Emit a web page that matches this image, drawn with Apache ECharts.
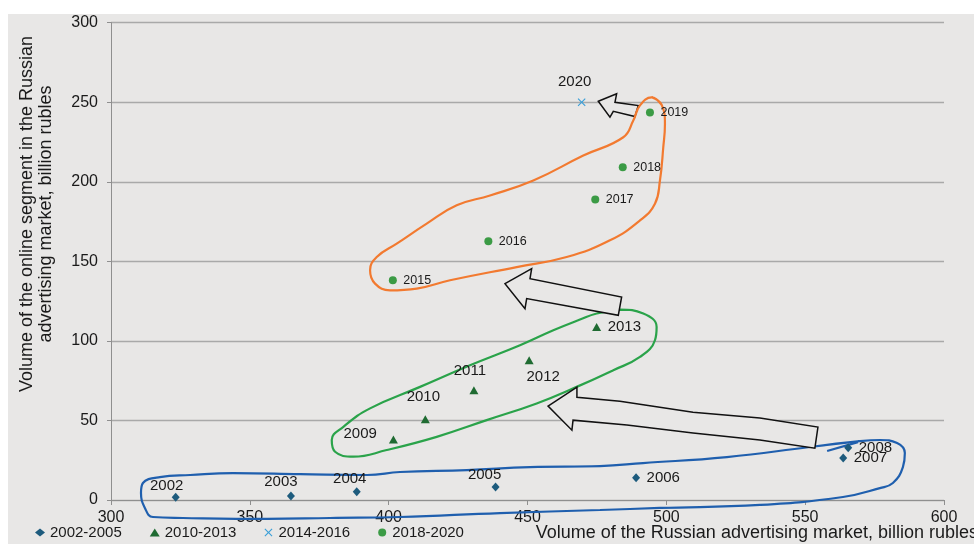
<!DOCTYPE html>
<html>
<head>
<meta charset="utf-8">
<script src="https://cdn.jsdelivr.net/npm/echarts@6/dist/echarts.min.js"></script>
<style>
  html, body { margin: 0; padding: 0; background: #ffffff; }
  #wrap { position: relative; width: 974px; height: 544px; overflow: hidden; }
  #panel { position: absolute; left: 8px; top: 14px; right: 0; bottom: 0; background: #e8e7e6; }
  #chart { position: absolute; left: 0; top: 0; width: 974px; height: 544px; }
</style>
</head>
<body>
<div id="wrap"><div id="panel"></div><div id="chart"></div></div>
<script>
// Russian advertising market (x) vs. its online segment (y), billion rubles
const diamondYears  = ['2002', '2003', '2004', '2005', '2006', '2007', '2008'];
const diamondMarket = [323.3, 364.8, 388.5, 438.5, 489.1, 563.7, 565.5];
const diamondOnline = [1.7, 2.5, 5.2, 8.2, 14.0, 26.4, 32.8];

const triangleYears  = ['2009', '2010', '2011', '2012', '2013'];
const triangleMarket = [401.7, 413.2, 430.7, 450.6, 474.9];
const triangleOnline = [38.1, 50.8, 69.0, 87.9, 108.8];

const crossYears  = ['2020'];
const crossMarket = [469.5];
const crossOnline = [250.0];

const circleYears  = ['2015', '2016', '2017', '2018', '2019'];
const circleMarket = [401.5, 435.9, 474.4, 484.3, 494.1];
const circleOnline = [138.1, 162.6, 188.9, 209.2, 243.5];

const legendNames = ['2002-2005', '2010-2013', '2014-2016', '2018-2020'];

const xTicks = [300, 350, 400, 450, 500, 550, 600];
const yTicks = [0, 50, 100, 150, 200, 250, 300];

// Hand-drawn loops around each period, in axis units
const blueLoop = [
  [569.7, 37.0], [551.7, 33.3], [521.8, 27.0], [491.6, 23.2], [476.1, 21.3], [450.9, 20.7],
  [428.2, 18.8], [404.1, 17.6], [392.2, 15.7], [368.1, 16.3], [343.9, 16.9], [328.5, 15.7],
  [317.6, 14.4], [311.5, 10.7], [310.8, 4.4], [312.2, -5.0], [315.1, -10.7], [325.9, -11.3],
  [356.2, -11.9], [378.9, -11.3], [404.1, -10.7], [440.1, -8.2], [476.1, -6.3], [497.7, -5.0],
  [533.7, -3.1], [563.6, 1.9], [576.9, 7.5], [581.6, 10.7], [585.2, 20.7], [585.9, 29.5],
  [583.1, 35.8], [576.9, 37.7], [569.7, 37.0], [551.7, 33.3]
];
const blueTail = [[557.9, 30.8], [569.0, 36.4]];

const greenLoop = [
  [474.9, 117.2], [483.3, 119.7], [491.7, 117.2], [496.5, 108.8], [495.9, 100.4], [490.5, 89.9],
  [480.9, 81.6], [467.7, 71.1], [453.3, 60.7], [435.3, 50.2], [417.3, 39.7], [399.3, 31.4],
  [387.3, 27.2], [380.7, 30.3], [379.5, 37.7], [383.7, 46.0], [393.3, 57.6], [411.3, 71.1],
  [429.3, 84.7], [447.3, 97.3], [459.3, 106.7], [468.9, 113.4], [474.9, 117.2], [483.3, 119.7]
];

const orangeLoop = [
  [494.7, 253.1], [498.3, 248.4], [499.5, 236.4], [498.9, 221.7], [497.7, 200.8], [495.9, 186.2],
  [490.5, 175.7], [479.7, 163.2], [464.1, 152.7], [446.1, 146.4], [422.1, 138.1], [410.1, 132.9],
  [400.5, 131.8], [395.1, 136.0], [393.3, 144.4], [395.7, 152.7], [402.9, 161.1], [413.7, 173.7],
  [424.5, 185.2], [436.5, 191.4], [452.1, 200.8], [470.1, 216.5], [484.5, 228.0], [488.1, 238.5],
  [490.5, 248.0], [494.7, 253.1], [498.3, 248.4]
];

// Block arrows leading from one period to the next, in axis units
const arrowShapes = [
  [[457.4, 59.0], [467.8, 70.9], [467.8, 64.6], [483.3, 62.1], [509.6, 55.2], [533.7, 51.5],
   [554.6, 45.8], [553.5, 32.6], [533.7, 37.7], [509.6, 42.1], [485.8, 47.1], [466.4, 50.2],
   [466.0, 43.9]],
  [[441.9, 136.0], [451.5, 145.4], [450.9, 139.1], [483.9, 127.6], [482.7, 116.1],
   [449.7, 126.6], [449.1, 120.3]],
  [[475.5, 250.6], [482.1, 255.3], [481.5, 250.0], [489.9, 247.9], [488.7, 241.0],
   [480.9, 244.3], [479.7, 240.6]]
];

// Label placement for each year
const labelPlace = {
  '2002': { position: 'top', offset: [-9, 5.5] },
  '2003': { position: 'top', offset: [-10, 2.5] },
  '2004': { position: 'top', offset: [-7, 4.5] },
  '2005': { position: 'top', offset: [-11, 4.5] },
  '2009': { position: 'left', offset: [-7, -6] },
  '2010': { position: 'top', offset: [-2, -5.5] },
  '2011': { position: 'top', offset: [-4, -2.5] },
  '2012': { position: 'bottom', offset: [14, 0.5] },
  '2020': { position: 'top', offset: [-7, -3.5] }
};

const BG = '#e8e7e6';
const TEXT = '#1a1a1a';
const FONT = '"Liberation Sans", Arial, sans-serif';

function points(years, xs, ys, fontSize) {
  return years.map((yr, i) => {
    const p = labelPlace[yr] || { position: 'right', offset: [1.5, 0] };
    return {
      name: yr,
      value: [xs[i], ys[i]],
      label: { position: p.position, offset: p.offset, fontSize: fontSize }
    };
  });
}

const labelBase = {
  show: true,
  formatter: '{b}',
  color: TEXT,
  fontFamily: FONT,
  distance: 5
};

const crossPath = 'path://M0,1L1,0L5,4L9,0L10,1L6,5L10,9L9,10L5,6L1,10L0,9L4,5Z';

function loopSeries(data, color, z) {
  return {
    type: 'line',
    data: data,
    smooth: 0.45,
    symbol: 'none',
    silent: true,
    clip: false,
    z: z,
    lineStyle: { color: color, width: 2.2 },
    legendHoverLink: false
  };
}

function scatterSeries(name, symbol, size, color, data) {
  return {
    name: name,
    type: 'scatter',
    symbol: symbol,
    symbolSize: size,
    z: 5,
    itemStyle: { color: color, opacity: 1 },
    label: labelBase,
    data: data
  };
}

const chart = echarts.init(document.getElementById('chart'), null, { renderer: 'canvas' });

chart.setOption({
  backgroundColor: 'transparent',
  animation: false,
  grid: { left: 111, right: 30, top: 22.7, bottom: 44, containLabel: false },
  xAxis: {
    type: 'value',
    min: xTicks[0],
    max: xTicks[xTicks.length - 1],
    interval: xTicks[1] - xTicks[0],
    axisLine: { show: true, lineStyle: { color: '#8f8f8f', width: 1 } },
    axisTick: { show: true, length: 5, lineStyle: { color: '#8f8f8f' } },
    axisLabel: { color: TEXT, fontFamily: FONT, fontSize: 16, margin: 10 },
    splitLine: { show: false }
  },
  yAxis: {
    type: 'value',
    min: yTicks[0],
    max: yTicks[yTicks.length - 1],
    interval: yTicks[1] - yTicks[0],
    axisLine: { show: true, lineStyle: { color: '#8f8f8f', width: 1 } },
    axisTick: { show: true, length: 4, lineStyle: { color: '#8f8f8f' } },
    axisLabel: { color: TEXT, fontFamily: FONT, fontSize: 16, margin: 13 },
    splitLine: { show: true, lineStyle: { color: '#a9a9a9', width: 1.3 } }
  },
  legend: {
    data: legendNames,
    left: 35,
    top: 525,
    itemWidth: 10,
    itemHeight: 8,
    itemGap: 28,
    padding: 0,
    textStyle: { color: TEXT, fontFamily: FONT, fontSize: 15 }
  },
  graphic: [
    {
      type: 'text',
      x: 37,
      y: 214,
      rotation: Math.PI / 2,
      silent: true,
      style: {
        text: 'Volume of the online segment in the Russian\nadvertising market, billion rubles',
        font: '18px ' + FONT,
        fill: TEXT,
        align: 'center',
        verticalAlign: 'middle',
        lineHeight: 19
      }
    },
    {
      type: 'text',
      x: 978,
      y: 533,
      silent: true,
      style: {
        text: 'Volume of the Russian advertising market, billion rubles',
        font: '18px ' + FONT,
        fill: TEXT,
        align: 'right',
        verticalAlign: 'middle'
      }
    }
  ],
  series: [
    loopSeries(blueLoop, '#1f5fae', 2),
    loopSeries(blueTail, '#1f5fae', 2),
    loopSeries(greenLoop, '#2aa34a', 2),
    {
      type: 'custom',
      silent: true,
      clip: false,
      z: 3,
      data: arrowShapes.map(a => a[0]),
      renderItem: function (params, api) {
        const pts = arrowShapes[params.dataIndex].map(p => api.coord(p));
        return {
          type: 'polygon',
          shape: { points: pts },
          style: { fill: BG, stroke: '#111111', lineWidth: 1.5, lineJoin: 'miter' }
        };
      }
    },
    loopSeries(orangeLoop, '#f27a30', 4),
    scatterSeries(legendNames[0], 'diamond', [8, 9], '#1d5b7d',
      points(diamondYears, diamondMarket, diamondOnline, 15)),
    scatterSeries(legendNames[1], 'triangle', [9, 8], '#1f6b32',
      points(triangleYears, triangleMarket, triangleOnline, 15)),
    scatterSeries(legendNames[2], crossPath, 8, '#3a9fd8',
      points(crossYears, crossMarket, crossOnline, 15)),
    scatterSeries(legendNames[3], 'circle', 8, '#3b9b45',
      points(circleYears, circleMarket, circleOnline, 12.5))
  ]
});
</script>
</body>
</html>
